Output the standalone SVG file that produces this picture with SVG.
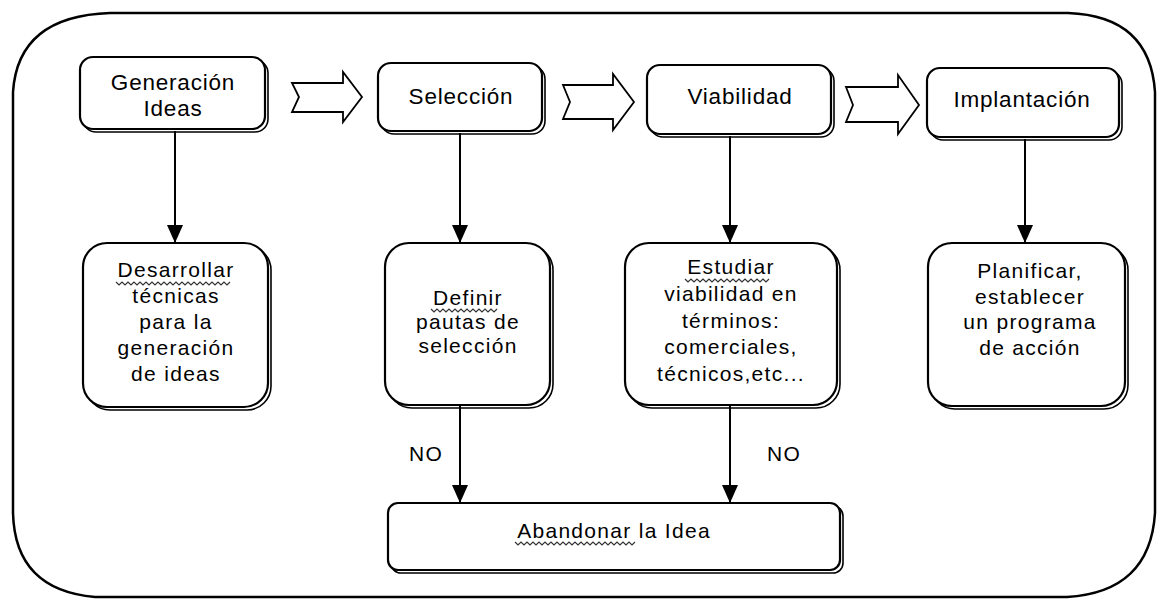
<svg xmlns="http://www.w3.org/2000/svg" width="1158" height="599" viewBox="0 0 1158 599">
  <defs>
    <style>
      .frame { fill: #ffffff; stroke: #000000; stroke-width: 2.5; }
      .box { fill: #ffffff; stroke: #000000; stroke-width: 2.2; }
      .shadow { fill: none; stroke: #000000; stroke-width: 1.6; }
      .step { fill: #ffffff; stroke: #000000; stroke-width: 1.8; stroke-linejoin: miter; }
      .link { fill: none; stroke: #000000; stroke-width: 2; }
      .squiggle { fill: none; stroke: #333333; stroke-width: 1.2; }
      .t1 { font-family: "Liberation Sans", Arial, sans-serif; font-size: 22.5px; letter-spacing: 0.8px; fill: #000000; text-anchor: middle; }
      .t2 { font-family: "Liberation Sans", Arial, sans-serif; font-size: 21px; letter-spacing: 1.3px; fill: #000000; text-anchor: middle; }
      .lbl { font-family: "Liberation Sans", Arial, sans-serif; font-size: 21px; letter-spacing: 1.3px; fill: #000000; text-anchor: middle; }
    </style>
    <marker id="head" viewBox="0 0 18 16" refX="18" refY="8" markerWidth="18" markerHeight="16" markerUnits="userSpaceOnUse" orient="auto">
      <path d="M0,0 L18,8 L0,16 Z" fill="#000000"/>
    </marker>
  </defs>

  <!-- outer rounded frame -->
  <path class="frame" d="M110,13 L1068,13 Q1150,16 1155,92 L1155,513 Q1150,592 1067,597 L95,597 Q15,590 13,513 L13,92 Q18,16 110,13 Z"/>

  <!-- connectors -->
  <g id="connectors">
    <line class="link" x1="175" y1="131" x2="175" y2="243" marker-end="url(#head)"/>
    <line class="link" x1="460" y1="133" x2="460" y2="243" marker-end="url(#head)"/>
    <line class="link" x1="730" y1="136" x2="730" y2="243" marker-end="url(#head)"/>
    <line class="link" x1="1025" y1="139" x2="1025" y2="243" marker-end="url(#head)"/>
    <line class="link" x1="460" y1="406" x2="460" y2="503" marker-end="url(#head)"/>
    <line class="link" x1="730" y1="406" x2="730" y2="503" marker-end="url(#head)"/>
    <text class="lbl" x="426" y="461">NO</text>
    <text class="lbl" x="784" y="461">NO</text>
    <!-- block arrows between stages -->
    <polygon class="step" points="292,83 343,83 343,72 362,97 343,122 343,112 292,112 299,97"/>
    <polygon class="step" points="563,85 613,85 613,74 634,102 613,130 613,119 563,119 570,102"/>
    <polygon class="step" points="846,87 898,87 898,75 919,105 898,134 898,122 846,122 853,105"/>
  </g>

  <!-- top row -->
  <g id="generacion">
    <rect class="shadow" x="83" y="60" width="185" height="72" rx="13"/>
    <rect class="box" x="80" y="57" width="185" height="72" rx="13"/>
    <text class="t1" x="173" y="90">Generación</text>
    <text class="t1" x="173" y="116">Ideas</text>
  </g>
  <g id="seleccion">
    <rect class="shadow" x="381" y="66" width="164" height="68" rx="13"/>
    <rect class="box" x="378" y="63" width="164" height="68" rx="13"/>
    <text class="t1" x="461" y="104">Selección</text>
  </g>
  <g id="viabilidad">
    <rect class="shadow" x="650" y="68" width="184" height="69" rx="13"/>
    <rect class="box" x="647" y="65" width="184" height="69" rx="13"/>
    <text class="t1" x="740" y="104">Viabilidad</text>
  </g>
  <g id="implantacion">
    <rect class="shadow" x="930" y="71" width="192" height="69" rx="13"/>
    <rect class="box" x="927" y="68" width="192" height="69" rx="13"/>
    <text class="t1" x="1022" y="107">Implantación</text>
  </g>

  <!-- second row -->
  <g id="desarrollar">
    <rect class="shadow" x="86" y="246" width="185" height="164" rx="24"/>
    <rect class="box" x="83" y="243" width="185" height="164" rx="24"/>
    <text class="t2" x="176" y="277">Desarrollar</text>
    <text class="t2" x="176" y="303">técnicas</text>
    <text class="t2" x="176" y="329">para la</text>
    <text class="t2" x="176" y="355">generación</text>
    <text class="t2" x="176" y="381">de ideas</text>
    <path class="squiggle" d="M116,282 l3,3 l3,-3 l3,3 l3,-3 l3,3 l3,-3 l3,3 l3,-3 l3,3 l3,-3 l3,3 l3,-3 l3,3 l3,-3 l3,3 l3,-3 l3,3 l3,-3 l3,3 l3,-3 l3,3 l3,-3 l3,3 l3,-3 l3,3 l3,-3 l3,3 l3,-3 l3,3 l3,-3 l3,3 l3,-3 l3,3 l3,-3 l3,3 l3,-3 l3,3 l3,-3"/>
  </g>
  <g id="definir">
    <rect class="shadow" x="388" y="246" width="165" height="162" rx="24"/>
    <rect class="box" x="385" y="243" width="165" height="162" rx="24"/>
    <text class="t2" x="468" y="305">Definir</text>
    <text class="t2" x="468" y="329">pautas de</text>
    <text class="t2" x="468" y="353">selección</text>
    <path class="squiggle" d="M431,309 l3,3 l3,-3 l3,3 l3,-3 l3,3 l3,-3 l3,3 l3,-3 l3,3 l3,-3 l3,3 l3,-3 l3,3 l3,-3 l3,3 l3,-3 l3,3 l3,-3 l3,3 l3,-3 l3,3 l3,-3"/>
  </g>
  <g id="estudiar">
    <rect class="shadow" x="628" y="246" width="212" height="162" rx="24"/>
    <rect class="box" x="625" y="243" width="212" height="162" rx="24"/>
    <text class="t2" x="731" y="274">Estudiar</text>
    <text class="t2" x="731" y="301">viabilidad en</text>
    <text class="t2" x="731" y="328">términos:</text>
    <text class="t2" x="731" y="354">comerciales,</text>
    <text class="t2" x="731" y="381">técnicos,etc...</text>
    <path class="squiggle" d="M685,279 l3,3 l3,-3 l3,3 l3,-3 l3,3 l3,-3 l3,3 l3,-3 l3,3 l3,-3 l3,3 l3,-3 l3,3 l3,-3 l3,3 l3,-3 l3,3 l3,-3 l3,3 l3,-3 l3,3 l3,-3 l3,3 l3,-3 l3,3 l3,-3 l3,3 l3,-3"/>
  </g>
  <g id="planificar">
    <rect class="shadow" x="931" y="246" width="197" height="163" rx="24"/>
    <rect class="box" x="928" y="243" width="197" height="163" rx="24"/>
    <text class="t2" x="1030" y="278">Planificar,</text>
    <text class="t2" x="1030" y="304">establecer</text>
    <text class="t2" x="1030" y="329">un programa</text>
    <text class="t2" x="1030" y="355">de acción</text>
  </g>

  <!-- bottom box -->
  <g id="abandonar">
    <rect class="shadow" x="391" y="506" width="452" height="67" rx="10"/>
    <rect class="box" x="388" y="503" width="452" height="67" rx="10"/>
    <text class="lbl" x="614" y="538">Abandonar la Idea</text>
    <path class="squiggle" d="M515,542 l3,3 l3,-3 l3,3 l3,-3 l3,3 l3,-3 l3,3 l3,-3 l3,3 l3,-3 l3,3 l3,-3 l3,3 l3,-3 l3,3 l3,-3 l3,3 l3,-3 l3,3 l3,-3 l3,3 l3,-3 l3,3 l3,-3 l3,3 l3,-3 l3,3 l3,-3 l3,3 l3,-3 l3,3 l3,-3 l3,3 l3,-3 l3,3 l3,-3 l3,3 l3,-3 l3,3 l3,-3"/>
  </g>
</svg>
